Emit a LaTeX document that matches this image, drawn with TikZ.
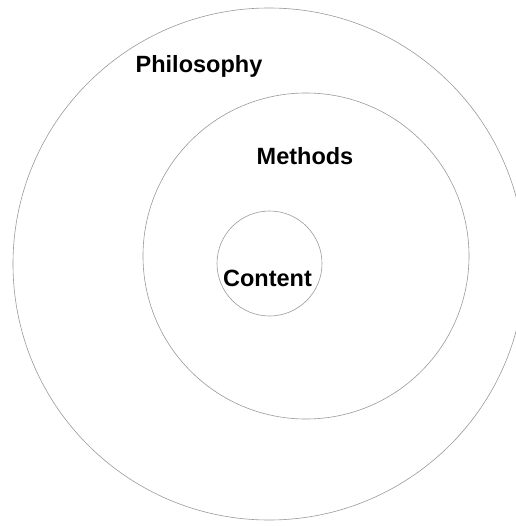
\documentclass[tikz,border=0pt]{standalone}
\usepackage{fontspec}
\setmainfont{Liberation Sans}
\usetikzlibrary{positioning}

\begin{document}
\begin{tikzpicture}[
      x=1pt, y=-1pt,
      ring/.style={circle,draw=black!40,line width=0.6pt,inner sep=0pt},
      lbl/.style={font=\bfseries\fontsize{23.5}{28}\selectfont,inner sep=0pt}
    ]
    \useasboundingbox (0,0) rectangle (516,527);
    \clip (0,0) rectangle (516,527);

    % Rings
    \node[ring,minimum size=512pt] (philosophy) at (269,264) {};
    \node[ring,minimum size=326pt] (methods) at (306,256) {};
    \node[ring,minimum size=105pt] (content) at (269.5,263.5) {};

    % Labels
    \node[lbl] (philtext) at (199,66) {Philosophy};
    \node[lbl] (methtext) at (305,156) {Methods};
    \node[lbl] (conttext) at (267.5,278) {Content};
  \end{tikzpicture}
\end{document}
